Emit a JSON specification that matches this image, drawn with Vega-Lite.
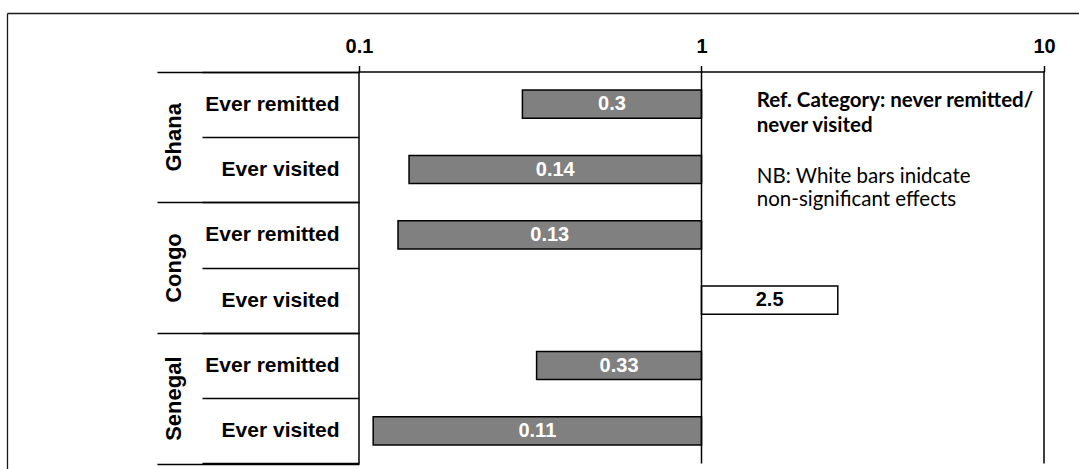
{
  "$schema": "https://vega.github.io/schema/vega-lite/v6.json",
  "width": 1072,
  "height": 456,
  "autosize": {"type": "none"},
  "padding": {"left": 7, "top": 13, "right": 0, "bottom": 0},
  "background": "white",
  "config": {"view": {"stroke": null}, "font": "Liberation Sans"},
  "datasets": {
    "bars": [
      {"row": "Ghana - Ever remitted", "country": "Ghana", "item": "Ever remitted", "value": 0.3, "sig": "yes"},
      {"row": "Ghana - Ever visited", "country": "Ghana", "item": "Ever visited", "value": 0.14, "sig": "yes"},
      {"row": "Congo - Ever remitted", "country": "Congo", "item": "Ever remitted", "value": 0.13, "sig": "yes"},
      {"row": "Congo - Ever visited", "country": "Congo", "item": "Ever visited", "value": 2.5, "sig": "no"},
      {"row": "Senegal - Ever remitted", "country": "Senegal", "item": "Ever remitted", "value": 0.33, "sig": "yes"},
      {"row": "Senegal - Ever visited", "country": "Senegal", "item": "Ever visited", "value": 0.11, "sig": "yes"}
    ],
    "lines": [{"value": 0.1}, {"value": 1}, {"value": 10}]
  },
  "layer": [
    {
      "data": {"values": [{}]},
      "mark": {"type": "point", "opacity": 0},
      "encoding": {
        "x": {"datum": 0, "type": "quantitative", "scale": {"domain": [0, 1], "range": [0, 1100]},
              "axis": {"orient": "top", "domain": true, "domainColor": "#1a1a1a", "domainWidth": 1.3, "ticks": false, "labels": false, "grid": false, "title": null}},
        "y": {"datum": 0, "type": "quantitative", "scale": {"domain": [0, 1], "range": [0, 500]},
              "axis": {"orient": "left", "domain": true, "domainColor": "#1a1a1a", "domainWidth": 1.3, "ticks": false, "labels": false, "grid": false, "title": null}}
      }
    },
    {
      "layer": [
        {
          "data": {"name": "bars"},
          "layer": [
            {
              "mark": {"type": "bar", "height": {"band": 0.43}, "stroke": "black", "strokeWidth": 1.5},
              "encoding": {
                "y": {"field": "row", "type": "nominal", "title": null,
                      "scale": {"type": "band", "domain": ["Ghana - Ever remitted", "Ghana - Ever visited", "Congo - Ever remitted", "Congo - Ever visited", "Senegal - Ever remitted", "Senegal - Ever visited"], "range": [58.5, 450.5], "paddingInner": 0, "paddingOuter": 0},
                      "axis": {"orient": "left", "offset": -352, "domain": false, "grid": false, "tickBand": "extent", "ticks": true, "tickSize": 157, "tickWidth": 1.5, "tickColor": "black",
                               "labelExpr": "split(datum.label, ' - ')[1]", "labelFont": "Liberation Sans", "labelFontWeight": "bold", "labelFontSize": 21, "labelColor": "black",
                               "labelAlign": "right", "labelBaseline": "middle", "labelPadding": -137, "labelOverlap": false, "title": null}},
                "x": {"field": "value", "type": "quantitative", "title": null,
                      "scale": {"type": "log", "domain": [0.1, 10], "range": [352, 1037]},
                      "axis": {"orient": "top", "offset": -58.5, "values": [0.1, 1, 10], "format": "~g", "grid": false,
                               "domain": true, "domainColor": "black", "domainWidth": 1.5, "ticks": true, "tickSize": 6, "tickWidth": 1.5, "tickColor": "black",
                               "labelFont": "Liberation Sans", "labelFontWeight": "bold", "labelFontSize": 20, "labelColor": "black", "labelBaseline": "alphabetic", "labelPadding": 13, "labelFlush": false, "title": null}},
                "x2": {"datum": 1},
                "fill": {"condition": {"test": "datum.sig === 'no'", "value": "white"}, "value": "#808080"}
              }
            },
            {
              "transform": [{"calculate": "sqrt(datum.value)", "as": "mid"}],
              "mark": {"type": "text", "font": "Liberation Sans", "fontWeight": "bold", "fontSize": 20, "align": "center", "baseline": "middle"},
              "encoding": {
                "y": {"field": "row", "type": "nominal", "title": null},
                "x": {"field": "mid", "type": "quantitative", "title": null},
                "text": {"field": "value", "type": "quantitative", "format": "~g"},
                "color": {"condition": {"test": "datum.sig === 'yes'", "value": "white"}, "value": "black"}
              }
            }
          ]
        },
        {
          "data": {"name": "bars"},
          "mark": {"type": "point", "opacity": 0},
          "encoding": {
            "x": {"field": "value", "type": "quantitative", "title": null},
            "y": {"field": "country", "type": "nominal", "title": null,
                  "scale": {"type": "band", "domain": ["Ghana", "Congo", "Senegal"], "range": [58.5, 450.5], "paddingInner": 0, "paddingOuter": 0},
                  "axis": {"orient": "left", "offset": -352, "domain": false, "grid": false, "tickBand": "extent", "ticks": true, "tickSize": 202, "tickWidth": 1.5, "tickColor": "black",
                           "labelFont": "Liberation Sans", "labelFontWeight": "bold", "labelFontSize": 22, "labelColor": "black",
                           "labelAngle": 270, "labelAlign": "center", "labelBaseline": "alphabetic", "labelPadding": -23.5, "labelOverlap": false, "title": null}}
          }
        },
        {
          "layer": [
            {
              "data": {"name": "lines"},
              "mark": {"type": "rule", "stroke": "black", "strokeWidth": 1.5},
              "encoding": {
                "x": {"field": "value", "type": "quantitative", "title": null},
                "y": {"datum": 0, "type": "quantitative", "scale": {"domain": [0, 6], "range": [58.5, 450.5]}, "axis": null},
                "y2": {"datum": 6}
              }
            },
            {
              "data": {"values": [{}]},
              "mark": {"type": "text", "font": "Lato", "fontWeight": "bold", "fontSize": 20.5, "align": "left", "baseline": "middle", "lineHeight": 25, "color": "black"},
              "encoding": {
                "x": {"datum": 1.45, "type": "quantitative"},
                "y": {"datum": 0.452, "type": "quantitative", "axis": null},
                "text": {"value": ["Ref. Category: never remitted/", "never visited"]}
              }
            },
            {
              "data": {"values": [{}]},
              "mark": {"type": "text", "font": "Lato", "fontWeight": "normal", "fontSize": 20.5, "align": "left", "baseline": "middle", "lineHeight": 23, "color": "black"},
              "encoding": {
                "x": {"datum": 1.45, "type": "quantitative"},
                "y": {"datum": 1.62, "type": "quantitative", "axis": null},
                "text": {"value": ["NB: White bars inidcate", "non-significant effects"]}
              }
            }
          ]
        }
      ],
      "resolve": {"scale": {"y": "independent"}}
    }
  ],
  "resolve": {"scale": {"x": "independent", "y": "independent"}}
}
